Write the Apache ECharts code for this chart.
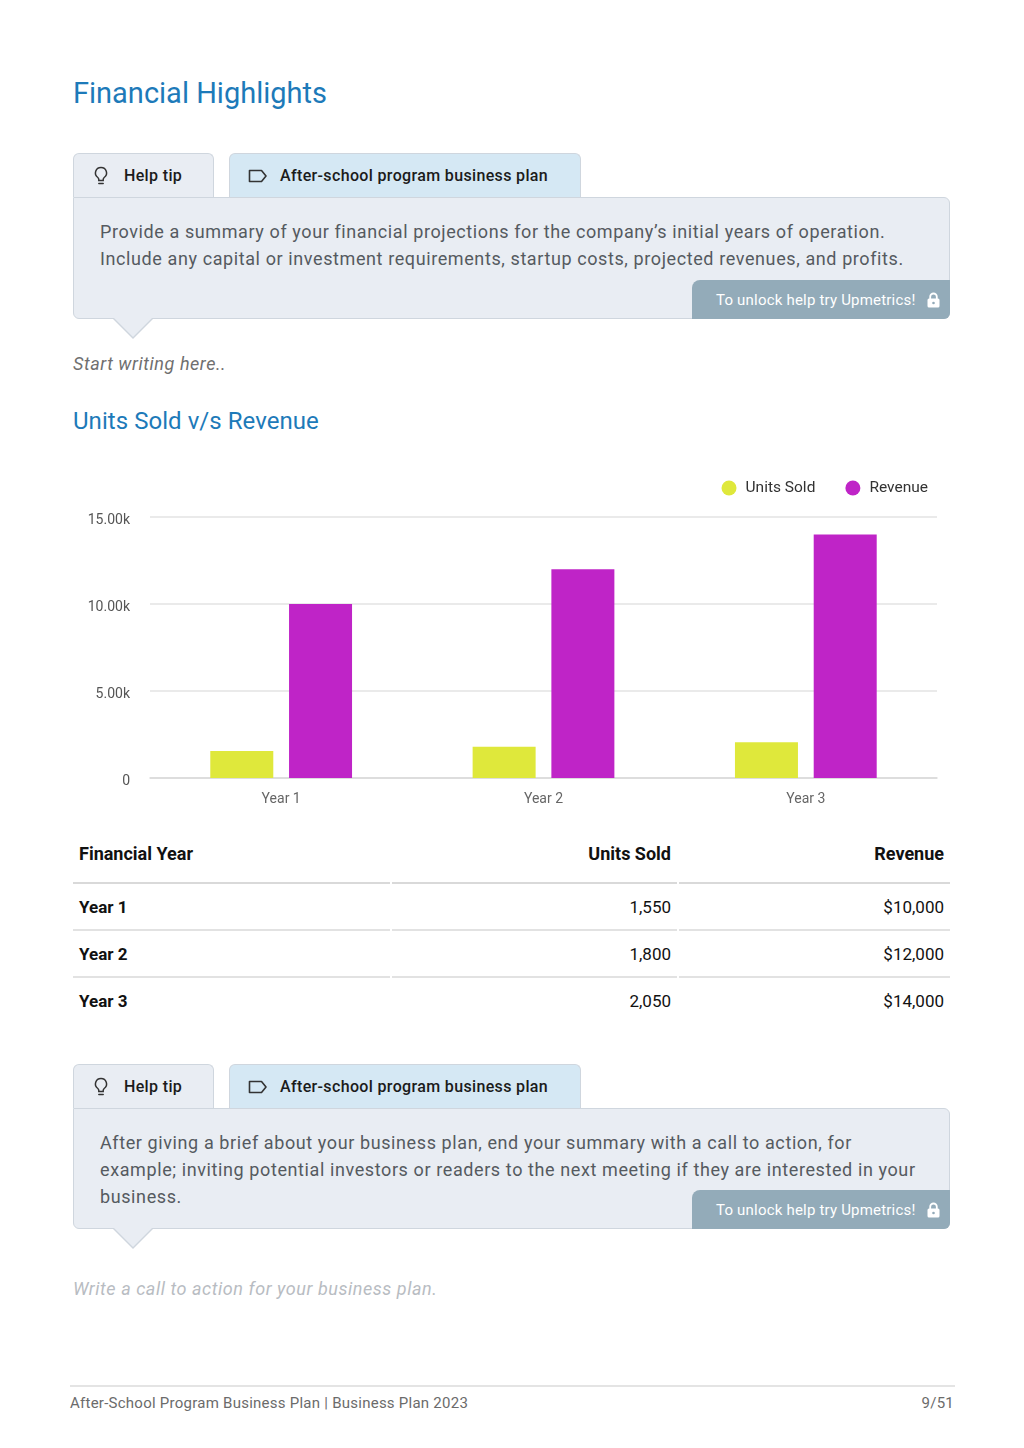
<!DOCTYPE html>
<html>
<head>
<meta charset="utf-8">
<script src="https://cdn.jsdelivr.net/npm/echarts@6/dist/echarts.min.js"></script>
<style>
  html,body{margin:0;padding:0;background:#fff;}
  body{width:1024px;height:1448px;position:relative;font-family:Roboto,"Noto Sans",Arial,sans-serif;overflow:hidden;}
  .abs{position:absolute;}
  .h1{left:73px;top:76px;font-size:29px;color:#1d7ab9;}
  .h2{left:73px;top:407px;font-size:24px;color:#1d7ab9;letter-spacing:0.05px;}
  .tab{position:absolute;height:44px;border:1px solid #cfd6de;border-bottom:none;border-radius:6px 6px 0 0;box-sizing:border-box;font-size:16px;font-weight:500;color:#1b1b1b;display:flex;align-items:center;letter-spacing:0.35px;}
  .tab1{background:#e9edf3;width:141px;}
  .tab2{background:#d5e8f4;width:352px;}
  .tab svg{margin-left:19px;margin-right:15px;}
  .tab2 svg{margin-left:18px;margin-right:12px;}
  .box{position:absolute;left:73px;width:877px;background:#e9edf3;border:1px solid #cfd6de;border-radius:0 6px 6px 6px;box-sizing:border-box;}
  .box p{margin:0;position:absolute;left:26px;top:20px;right:30px;font-size:18px;line-height:27px;color:#555a60;letter-spacing:0.6px;}
  .badge{position:absolute;right:-1px;bottom:-1px;width:258px;height:39px;background:#93abb9;border-radius:8px 0 6px 0;color:#fff;font-size:15px;display:flex;align-items:center;box-sizing:border-box;padding-left:24px;letter-spacing:0.2px;}
  .badge svg{margin-left:11px;}
  .tri{position:absolute;width:0;height:0;}
  .italic{font-style:italic;font-size:18px;letter-spacing:0.55px;}
  table{position:absolute;left:71px;top:832px;width:881px;table-layout:fixed;border-collapse:separate;border-spacing:2px 0;font-size:17px;color:#111;}
  td,th{padding:0 6px;}
  th{height:52px;font-weight:700;font-size:18px;border-bottom:2px solid #d9d9d9;padding-bottom:7px;box-sizing:border-box;}
  td{height:45px;border-bottom:2px solid #e2e2e2;}
  tr:last-child td{border-bottom:none;}
  .l{text-align:left;}
  .r{text-align:right;}
  .b{font-weight:700;}
  .foot{left:70px;top:1385px;width:885px;border-top:2px solid #e4e4e4;}
  .foottxt{top:1394px;font-size:15px;color:#6b6b6b;letter-spacing:0.25px;}
</style>
</head>
<body>
<div class="abs h1">Financial Highlights</div>

<div id="tips1"></div>

<div class="abs italic" style="left:73px;top:353px;color:#6f6f6f;">Start writing here..</div>

<div class="abs h2">Units Sold v/s Revenue</div>

<div id="chart" class="abs" style="left:73px;top:470px;width:877px;height:345px;"></div>

<table id="tbl"></table>

<div id="tips2"></div>

<div class="abs italic" style="left:73px;top:1278px;color:#b8bcc2;">Write a call to action for your business plan.</div>

<div class="abs foot"></div>
<div class="abs foottxt" style="left:70px;">After-School Program Business Plan | Business Plan 2023</div>
<div class="abs foottxt" style="right:70px;">9/51</div>

<script>
// ---- data ----
var categories = ['Year 1', 'Year 2', 'Year 3'];
var unitsSold = [1550, 1800, 2050];
var revenue = [10000, 12000, 14000];
var seriesNames = ['Units Sold', 'Revenue'];
var tableHeaders = ['Financial Year', 'Units Sold', 'Revenue'];
var yTicks = { min: 0, max: 15000, interval: 5000 };

// ---- help tip blocks ----
var bulb = '<svg width="16" height="20" viewBox="0 0 16 20"><path d="M8 1.5a5.5 5.5 0 0 0-3.2 10c.6.5 1 1.1 1 1.9v1h4.4v-1c0-.8.4-1.4 1-1.9A5.5 5.5 0 0 0 8 1.5z" fill="none" stroke="#333" stroke-width="1.5"/><path d="M5.8 17.5h4.4" stroke="#333" stroke-width="1.5" stroke-linecap="round"/></svg>';
var tag = '<svg width="20" height="14" viewBox="0 0 20 14"><path d="M1.5 1.5h12l4.5 5.5-4.5 5.5h-12z" fill="none" stroke="#333" stroke-width="1.6" stroke-linejoin="round"/></svg>';
var lock = '<svg width="13" height="16" viewBox="0 0 13 16"><path d="M3.2 7V4.8a3.3 3.3 0 0 1 6.6 0V7" fill="none" stroke="#fff" stroke-width="1.8"/><rect x="0.5" y="6.6" width="12" height="9" rx="1.5" fill="#fff"/><circle cx="6.5" cy="11" r="1.3" fill="#93abb9"/></svg>';

function tipBlock(top, boxH, text) {
  return '' +
    '<div class="tab tab1" style="left:73px;top:' + top + 'px;">' + bulb + 'Help tip</div>' +
    '<div class="tab tab2" style="left:229px;top:' + top + 'px;">' + tag + 'After-school program business plan</div>' +
    '<div class="box" style="top:' + (top + 44) + 'px;height:' + boxH + 'px;"><p>' + text + '</p>' +
    '<div class="badge">To unlock help try Upmetrics!' + lock + '</div></div>' +
    '<div class="tri" style="left:112px;top:' + (top + 44 + boxH - 1) + 'px;border-left:21px solid transparent;border-right:21px solid transparent;border-top:21px solid #cfd6de;"></div>' +
    '<div class="tri" style="left:113px;top:' + (top + 44 + boxH - 2) + 'px;border-left:20px solid transparent;border-right:20px solid transparent;border-top:20px solid #e9edf3;"></div>';
}
document.getElementById('tips1').innerHTML = tipBlock(153, 122,
  'Provide a summary of your financial projections for the company’s initial years of operation. Include any capital or investment requirements, startup costs, projected revenues, and profits.');
document.getElementById('tips2').innerHTML = tipBlock(1064, 121,
  'After giving a brief about your business plan, end your summary with a call to action, for example; inviting potential investors or readers to the next meeting if they are interested in your business.');

// ---- table ----
function fmt(n) { return n.toLocaleString('en-US'); }
var html = '<colgroup><col style="width:317px"><col style="width:285px"><col style="width:271px"></colgroup>' +
  '<tr><th class="l">' + tableHeaders[0] + '</th><th class="r">' + tableHeaders[1] + '</th><th class="r">' + tableHeaders[2] + '</th></tr>';
for (var i = 0; i < categories.length; i++) {
  html += '<tr><td class="l b">' + categories[i] + '</td><td class="r">' + fmt(unitsSold[i]) + '</td><td class="r">$' + fmt(revenue[i]) + '</td></tr>';
}
document.getElementById('tbl').innerHTML = html;

// ---- chart ----
var chart = echarts.init(document.getElementById('chart'), null, { renderer: 'canvas' });
chart.setOption({
  animation: false,
  textStyle: { fontFamily: 'Roboto' },
  legend: {
    data: seriesNames,
    right: 17,
    top: 5,
    icon: 'circle',
    itemWidth: 15,
    itemHeight: 15,
    itemGap: 30,
    textStyle: { color: '#333', fontSize: 15.5, fontFamily: 'Roboto', padding: [0, 0, 0, 4] }
  },
  grid: { left: 77, right: 13, top: 47, bottom: 37, containLabel: false },
  xAxis: {
    type: 'category',
    data: categories,
    axisLine: { show: true, lineStyle: { color: '#d9d9d9', width: 1.5 } },
    axisTick: { show: false },
    axisLabel: { color: '#666', fontSize: 14, margin: 14 }
  },
  yAxis: {
    type: 'value',
    min: yTicks.min,
    max: yTicks.max,
    interval: yTicks.interval,
    axisLine: { show: false },
    axisTick: { show: false },
    splitLine: { lineStyle: { color: '#e3e3e3', width: 1.5 } },
    axisLabel: {
      color: '#555',
      fontSize: 14,
      margin: 20,
      formatter: function (v) { return '{v|' + (v === 0 ? '0' : (v / 1000).toFixed(2) + 'k') + '}'; },
      rich: { v: { color: '#555', fontSize: 14, fontFamily: 'Roboto', padding: [6, 0, 0, 0] } }
    }
  },
  series: [
    { name: seriesNames[0], type: 'bar', data: unitsSold, barWidth: 63, barGap: '25%', itemStyle: { color: '#dfe83b' } },
    { name: seriesNames[1], type: 'bar', data: revenue, barWidth: 63, barGap: '25%', itemStyle: { color: '#bf24c7' } }
  ]
});
</script>
</body>
</html>
